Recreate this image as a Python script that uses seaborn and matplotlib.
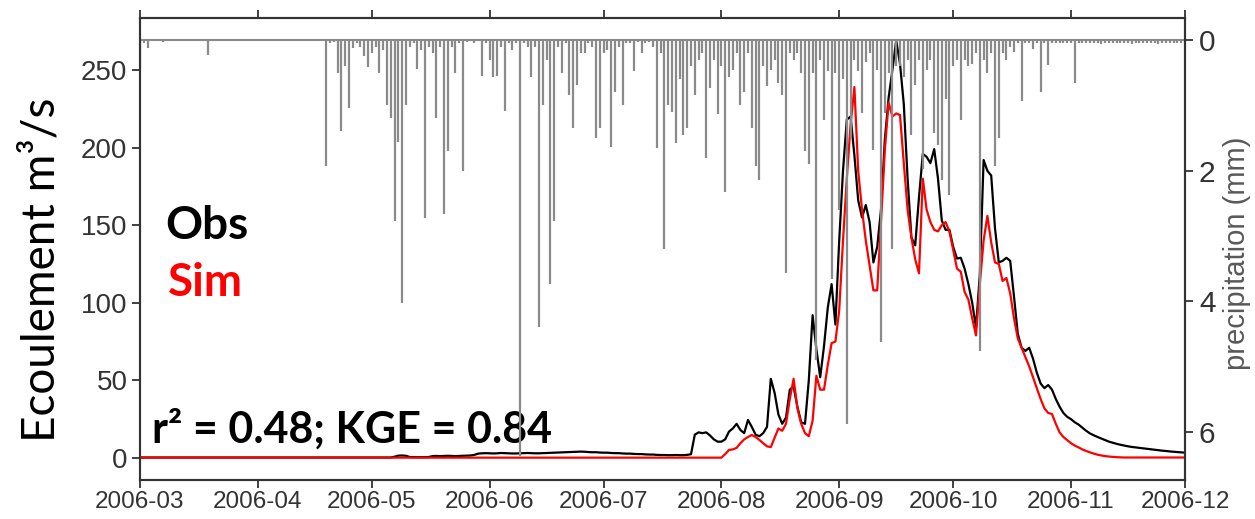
import pandas as pd
import matplotlib
matplotlib.use("Agg")
import matplotlib.pyplot as plt
import matplotlib.dates as mdates
import seaborn as sns

# Daily series, 2006-03-01 .. 2006-12-01
dates = pd.date_range("2006-03-01", "2006-12-01", freq="D")

obs_flow = [
    # March
    0.3, 0.3, 0.3, 0.3, 0.3, 0.3, 0.3, 0.3, 0.3, 0.3,
    0.3, 0.3, 0.3, 0.3, 0.3, 0.3, 0.3, 0.3, 0.3, 0.3,
    0.3, 0.3, 0.3, 0.3, 0.3, 0.3, 0.3, 0.3, 0.3, 0.3,
    0.3,
    # April
    0.3, 0.3, 0.3, 0.3, 0.3, 0.3, 0.3, 0.3, 0.3, 0.3,
    0.3, 0.3, 0.3, 0.3, 0.3, 0.3, 0.3, 0.3, 0.3, 0.3,
    0.3, 0.3, 0.3, 0.3, 0.3, 0.3, 0.3, 0.3, 0.3, 0.3,
    # May
    0.3, 0.3, 0.3, 0.3, 0.3, 0.3, 0.8, 1.5, 1.6, 1.4,
    0.6, 0.5, 0.5, 0.5, 0.5, 0.6, 1.2, 1.3, 1.2, 1.3,
    1.4, 1.3, 1.2, 1.3, 1.4, 1.5, 1.6, 2.0, 2.8, 3.0,
    3.1,
    # June
    3.0, 2.9, 3.0, 3.2, 3.1, 3.0, 2.9, 2.9, 3.0, 3.1,
    3.2, 3.1, 3.0, 3.0, 3.1, 3.2, 3.3, 3.4, 3.5, 3.6,
    3.7, 3.8, 3.9, 4.0, 4.1, 4.0, 3.8, 3.7, 3.7, 3.5,
    # July
    3.4, 3.4, 3.2, 3.1, 3.1, 2.9, 2.8, 2.8, 2.6, 2.5,
    2.5, 2.3, 2.2, 2.2, 2.0, 1.9, 1.9, 1.8, 1.8, 1.9,
    1.8, 1.8, 2.0, 2.4, 15.0, 16.5, 16.0, 16.5, 14.5, 12.0,
    10.5,
    # August
    10.5, 12.0, 17.0, 19.0, 22.0, 18.0, 16.0, 24.5, 20.0, 15.0,
    14.0, 16.0, 20.0, 51.0, 42.0, 28.0, 22.0, 26.0, 44.0, 46.0,
    33.0, 23.0, 22.0, 50.0, 92.0, 70.0, 52.0, 72.0, 97.0, 112.0,
    86.0,
    # September
    140.0, 185.0, 218.0, 220.0, 195.0, 166.0, 155.0, 163.0, 152.0, 126.0,
    136.0, 160.0, 205.0, 232.0, 250.0, 269.0, 254.0, 228.0, 180.0, 142.0,
    137.0, 168.0, 196.0, 194.0, 190.0, 199.0, 180.0, 153.0, 147.0, 147.0,
    # October
    136.0, 128.5, 129.0, 122.0, 112.0, 100.0, 84.0, 118.0, 192.0, 185.0,
    182.0, 148.0, 126.0, 127.0, 129.0, 127.0, 104.0, 80.0, 71.0, 69.0,
    71.0, 64.0, 55.0, 48.0, 45.0, 47.0, 44.0, 38.0, 33.0, 29.0,
    26.5,
    # November
    25.0, 23.0, 21.5, 19.5, 17.5, 15.8, 14.6, 13.5, 12.5, 11.5,
    10.5, 9.8, 9.1, 8.5, 8.0, 7.5, 7.1, 6.8, 6.5, 6.2,
    5.9, 5.6, 5.3, 5.0, 4.7, 4.5, 4.2, 4.0, 3.8, 3.6,
    # December 1st
    3.4,
]

sim_flow = [
    # March
    0.2, 0.2, 0.2, 0.2, 0.2, 0.2, 0.2, 0.2, 0.2, 0.2,
    0.2, 0.2, 0.2, 0.2, 0.2, 0.2, 0.2, 0.2, 0.2, 0.2,
    0.2, 0.2, 0.2, 0.2, 0.2, 0.2, 0.2, 0.2, 0.2, 0.2,
    0.2,
    # April
    0.2, 0.2, 0.2, 0.2, 0.2, 0.2, 0.2, 0.2, 0.2, 0.2,
    0.2, 0.2, 0.2, 0.2, 0.2, 0.2, 0.2, 0.2, 0.2, 0.2,
    0.2, 0.2, 0.2, 0.2, 0.2, 0.2, 0.2, 0.2, 0.2, 0.2,
    # May
    0.2, 0.2, 0.2, 0.2, 0.2, 0.2, 0.2, 0.2, 0.2, 0.2,
    0.2, 0.2, 0.2, 0.2, 0.2, 0.2, 0.2, 0.2, 0.2, 0.2,
    0.2, 0.2, 0.2, 0.2, 0.2, 0.2, 0.2, 0.2, 0.2, 0.2,
    0.2,
    # June
    0.2, 0.2, 0.2, 0.2, 0.2, 0.2, 0.2, 0.2, 0.2, 0.2,
    0.2, 0.2, 0.2, 0.2, 0.2, 0.2, 0.2, 0.2, 0.2, 0.2,
    0.2, 0.2, 0.2, 0.2, 0.2, 0.2, 0.2, 0.2, 0.2, 0.2,
    # July
    0.2, 0.2, 0.2, 0.2, 0.2, 0.2, 0.2, 0.2, 0.2, 0.2,
    0.2, 0.2, 0.2, 0.2, 0.2, 0.2, 0.2, 0.2, 0.2, 0.2,
    0.2, 0.2, 0.2, 0.2, 0.2, 0.2, 0.2, 0.2, 0.2, 0.2,
    0.2,
    # August
    0.2, 2.5, 5.2, 5.5, 6.5, 9.5, 12.0, 13.5, 14.8, 13.5,
    11.6, 9.5, 7.5, 7.0, 13.0, 19.0, 17.5, 22.0, 38.0, 51.0,
    32.0, 22.0, 16.0, 14.0, 24.0, 53.0, 44.0, 44.0, 60.0, 74.0,
    75.0,
    # September
    95.0, 140.0, 180.0, 215.0, 239.0, 185.0, 160.0, 140.0, 124.0, 108.0,
    108.0, 152.0, 198.0, 229.0, 220.0, 222.0, 221.0, 190.0, 160.0, 142.0,
    128.0, 119.0, 180.0, 160.0, 152.0, 147.0, 146.0, 150.0, 152.0, 146.0,
    # October
    134.0, 122.0, 120.0, 107.0, 102.0, 90.0, 79.0, 112.0, 140.0, 156.0,
    139.0, 126.0, 125.0, 114.0, 116.0, 106.0, 90.0, 77.0, 71.0, 65.0,
    59.0, 52.0, 45.0, 38.0, 32.0, 29.0, 28.3, 22.0, 16.5, 13.5,
    11.5,
    # November
    9.5, 8.0, 6.8, 5.5, 4.5, 3.6, 2.8, 2.1, 1.6, 1.2,
    0.9, 0.7, 0.5, 0.4, 0.3, 0.3, 0.3, 0.3, 0.3, 0.3,
    0.3, 0.3, 0.3, 0.3, 0.3, 0.3, 0.3, 0.3, 0.3, 0.3,
    # December 1st
    0.3,
]

precip_mm = [
    # March
    0.43, 0.05, 0.12, 0.0, 0.0, 0.0, 0.03, 0.0, 0.0, 0.0,
    0.0, 0.0, 0.0, 0.0, 0.0, 0.0, 0.0, 0.0, 0.23, 0.0,
    0.0, 0.0, 0.0, 0.02, 0.0, 0.0, 0.0, 0.0, 0.0, 0.0,
    0.0,
    # April
    0.0, 0.0, 0.0, 0.0, 0.0, 0.0, 0.0, 0.0, 0.0, 0.0,
    0.0, 0.0, 0.0, 0.0, 0.0, 0.0, 0.0, 0.0, 1.93, 0.05,
    0.03, 0.5, 1.4, 0.4, 1.04, 0.12, 0.05, 0.1, 0.25, 0.42,
    # May
    0.2, 0.1, 0.5, 0.15, 1.0, 1.2, 2.77, 1.56, 4.02, 1.0,
    0.1, 0.05, 0.45, 0.15, 2.72, 0.1, 0.2, 1.2, 0.1, 2.67,
    1.7, 0.1, 0.5, 0.05, 2.0, 0.03, 0.02, 0.05, 0.02, 0.55,
    0.05,
    # June
    0.3, 0.57, 0.55, 0.1, 1.09, 0.05, 0.15, 0.05, 6.36, 0.05,
    0.1, 0.56, 0.1, 4.4, 1.0, 0.3, 3.74, 2.77, 0.1, 0.5,
    0.05, 0.84, 1.34, 0.69, 0.2, 0.2, 0.05, 0.1, 1.5, 1.35,
    # July
    0.2, 0.15, 1.63, 0.8, 0.1, 1.0, 0.05, 0.05, 0.48, 0.03,
    0.2, 0.05, 0.03, 0.1, 1.65, 0.2, 3.2, 1.0, 1.1, 1.58,
    0.6, 1.45, 1.35, 0.4, 0.84, 0.3, 0.2, 1.8, 0.73, 0.3,
    1.14,
    # August
    0.4, 2.32, 0.56, 0.46, 0.2, 1.0, 0.8, 0.2, 1.35, 1.93,
    2.14, 0.4, 0.71, 0.46, 0.3, 0.66, 0.84, 3.56, 0.2, 0.3,
    0.2, 0.5, 1.7, 1.9, 0.5, 4.9, 0.3, 1.22, 0.47, 3.66,
    0.5,
    # September
    2.6, 0.6, 5.88, 1.5, 0.3, 0.47, 1.12, 0.33, 0.2, 1.68,
    0.46, 4.63, 1.12, 0.5, 3.2, 0.4, 0.4, 0.56, 0.3, 1.45,
    0.69, 0.3, 1.98, 0.46, 0.3, 1.42, 1.6, 2.14, 0.9, 2.37,
    # October
    0.4, 0.3, 1.22, 0.3, 0.4, 0.37, 0.2, 4.76, 0.3, 0.5,
    0.2, 1.93, 1.5, 0.2, 0.3, 0.1, 0.18, 0.05, 0.94, 0.05,
    0.04, 0.13, 0.05, 0.79, 0.05, 0.38, 0.04, 0.05, 0.04, 0.05,
    0.04,
    # November
    0.05, 0.66, 0.05, 0.04, 0.05, 0.05, 0.04, 0.05, 0.06, 0.05,
    0.04, 0.05, 0.05, 0.04, 0.05, 0.05, 0.06, 0.04, 0.05, 0.05,
    0.04, 0.05, 0.05, 0.06, 0.04, 0.05, 0.05, 0.04, 0.05, 0.05,
    # December 1st
    0.04,
]

flow_ticks = [0, 50, 100, 150, 200, 250]
precip_ticks = [0, 2, 4, 6]

flow_label = "Ecoulement m³/s"
precip_label = "precipitation (mm)"
obs_label = "Obs"
sim_label = "Sim"
score_label = "r² = 0.48; KGE = 0.84"

sns.set_style("ticks")
plt.rcParams["font.family"] = ["Liberation Sans", "DejaVu Sans"]

AX_COL = "#333333"
W, H = 1255, 519
fig = plt.figure(figsize=(W / 100, H / 100), dpi=100)
ax = fig.add_axes([140 / W, 1 - 480 / H, 1045 / W, 462 / H])

sns.lineplot(x=dates, y=obs_flow, ax=ax, color="black", linewidth=1.6)
sns.lineplot(x=dates, y=sim_flow, ax=ax, color="#ff0000", linewidth=1.6)

ax.set_xlim(pd.Timestamp("2006-03-01"), pd.Timestamp("2006-12-01"))
ax.set_ylim(-14.2, 283.5)
ax.set_yticks(flow_ticks)
ax.xaxis.set_major_locator(mdates.MonthLocator())
ax.xaxis.set_major_formatter(mdates.DateFormatter("%Y-%m"))
ax.set_xlabel("")
ax.set_ylabel("")
ax.tick_params(axis="x", top=True, direction="out", length=6, width=1.3,
               color=AX_COL, labelcolor=AX_COL, labelsize=17.5, pad=2)
ax.tick_params(axis="y", direction="out", length=6, width=1.3,
               color=AX_COL, labelcolor=AX_COL, labelsize=20, pad=3)
for s in ax.spines.values():
    s.set_visible(True)
    s.set_color(AX_COL)
    s.set_linewidth(1.5)

# Rainfall hanging from the top on an inverted right-hand axis
ax2 = ax.twinx()
ax2.vlines(dates, 0, precip_mm, color="#8a8a8a", linewidth=1.6)
ax2.axhline(0, color="#8a8a8a", linewidth=1.5)
ax2.set_ylim(6.735, -0.337)
ax2.set_yticks(precip_ticks)
ax2.tick_params(axis="y", direction="out", length=6, width=1.3,
                color=AX_COL, labelcolor=AX_COL, labelsize=21.5, pad=4)
for s in ax2.spines.values():
    s.set_color(AX_COL)
    s.set_linewidth(1.5)

def ax_frac(px, py):
    return ((px - 140) / 1045, (480 - py) / 462)

fig.text(42 / W, 1 - 270 / H, flow_label, rotation=90, ha="center", va="center",
         fontsize=33, family="Lato", color="black")
fig.text(1237 / W, 1 - 253 / H, precip_label, rotation=90, ha="center", va="center",
         fontsize=21, color="#595959")

ax.text(*ax_frac(165, 239), obs_label, transform=ax.transAxes, ha="left",
        va="baseline", fontsize=33, family="Lato", fontweight="bold", color="black")
ax.text(*ax_frac(168, 296), sim_label, transform=ax.transAxes, ha="left",
        va="baseline", fontsize=33, family="Lato", fontweight="bold", color="#ff0000")
ax.text(*ax_frac(152, 443), score_label, transform=ax.transAxes, ha="left",
        va="baseline", fontsize=31, family="Lato", fontweight="bold", color="black",
        zorder=5)

fig.savefig("out.png", dpi=100)
